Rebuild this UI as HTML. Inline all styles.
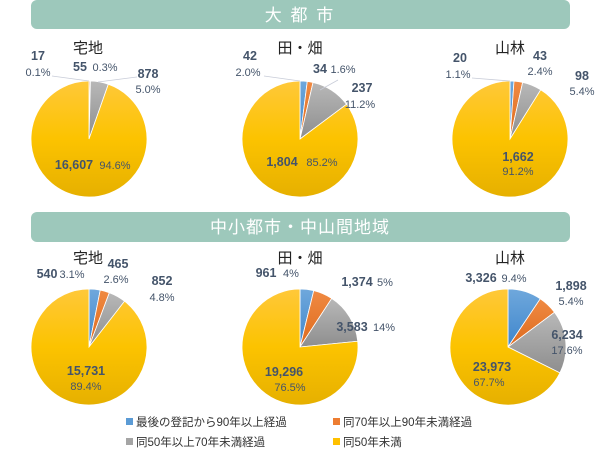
<!DOCTYPE html>
<html><head><meta charset="utf-8"><style>
body{margin:0;background:#fff}
svg{display:block;font-family:"Liberation Sans","Noto Sans CJK JP",sans-serif}
.b{font-weight:bold;font-size:12.5px;fill:#44546a}
.p{font-size:11px;fill:#44546a}
.t{font-size:15px;fill:#222}
.l{font-size:11.5px;fill:#333}
</style></head><body>
<svg id="s" width="600" height="450" viewBox="0 0 600 450">
<defs>
<linearGradient id="gy" x1="0" y1="0" x2="0" y2="1"><stop offset="0" stop-color="#ffc83a"/><stop offset="0.5" stop-color="#fcc300"/><stop offset="1" stop-color="#e6b000"/></linearGradient>
<linearGradient id="gg" x1="0" y1="0" x2="0" y2="1"><stop offset="0" stop-color="#b8b8b8"/><stop offset="1" stop-color="#8e8e8e"/></linearGradient>
<linearGradient id="gb" x1="0" y1="0" x2="0" y2="1"><stop offset="0" stop-color="#6fa8dc"/><stop offset="1" stop-color="#3f86cc"/></linearGradient>
<linearGradient id="go" x1="0" y1="0" x2="0" y2="1"><stop offset="0" stop-color="#f08a42"/><stop offset="1" stop-color="#dd6a1e"/></linearGradient>
</defs>
<rect x="31" y="0" width="539" height="29" rx="6" fill="#9dc8bb"/>
<text x="300" y="21" text-anchor="middle" font-size="17" fill="#fff" letter-spacing="2">大 都 市</text>
<rect x="31" y="212" width="539" height="30" rx="6" fill="#9dc8bb"/>
<text x="300" y="233" text-anchor="middle" font-size="17" fill="#fff" letter-spacing="1">中小都市・中山間地域</text>
<g id="pies"></g>
<g stroke="#c8ccd8" stroke-width="0.8" fill="none">
<path d="M52,76 L89,81"/><path d="M98,82 L137,77"/>
<path d="M264,76 L300,81"/><path d="M338,80 L320,90"/>
<path d="M472,78 L510,81"/>
</g>
<g text-anchor="middle">
<text class="t" x="88" y="53">宅地</text>
<text class="b" x="38" y="60">17</text><text class="p" x="38" y="76">0.1%</text>
<text class="b" x="80" y="71">55</text><text class="p" x="105" y="71">0.3%</text>
<text class="b" x="148" y="78">878</text><text class="p" x="148" y="93">5.0%</text>
<text class="b" x="74" y="169" font-size="14">16,607</text><text class="p" x="115" y="169">94.6%</text>
<text class="t" x="300" y="53">田・畑</text>
<text class="b" x="250" y="60">42</text><text class="p" x="248" y="76">2.0%</text>
<text class="b" x="320" y="73">34</text><text class="p" x="343" y="73">1.6%</text>
<text class="b" x="362" y="92">237</text><text class="p" x="360" y="108">11.2%</text>
<text class="b" x="282" y="166" font-size="14">1,804</text><text class="p" x="322" y="166">85.2%</text>
<text class="t" x="510" y="53">山林</text>
<text class="b" x="460" y="62">20</text><text class="p" x="458" y="78">1.1%</text>
<text class="b" x="540" y="60">43</text><text class="p" x="540" y="75">2.4%</text>
<text class="b" x="582" y="80">98</text><text class="p" x="582" y="95">5.4%</text>
<text class="b" x="518" y="161" font-size="14">1,662</text><text class="p" x="518" y="175">91.2%</text>

<text class="t" x="88" y="263">宅地</text>
<text class="b" x="118" y="268">465</text><text class="p" x="116" y="283">2.6%</text>
<text class="b" x="47" y="278">540</text><text class="p" x="72" y="278">3.1%</text>
<text class="b" x="162" y="285" font-size="11">852</text><text class="p" x="162" y="301">4.8%</text>
<text class="b" x="86" y="375" font-size="14">15,731</text><text class="p" x="86" y="390">89.4%</text>
<text class="t" x="300" y="263">田・畑</text>
<text class="b" x="266" y="277">961</text><text class="p" x="291" y="277">4%</text>
<text class="b" x="357" y="286">1,374</text><text class="p" x="385" y="286">5%</text>
<text class="b" x="352" y="331" font-size="14">3,583</text><text class="p" x="384" y="331">14%</text>
<text class="b" x="284" y="376" font-size="14">19,296</text><text class="p" x="290" y="391">76.5%</text>
<text class="t" x="510" y="263">山林</text>
<text class="b" x="481" y="282">3,326</text><text class="p" x="514" y="282">9.4%</text>
<text class="b" x="571" y="290" font-size="14">1,898</text><text class="p" x="571" y="305">5.4%</text>
<text class="b" x="567" y="339" font-size="14">6,234</text><text class="p" x="567" y="354">17.6%</text>
<text class="b" x="492" y="371" font-size="14">23,973</text><text class="p" x="489" y="386">67.7%</text>
</g>
<rect x="126" y="418" width="7" height="7" fill="#5b9bd5"/><text class="l" x="136" y="426">最後の登記から90年以上経過</text>
<rect x="333" y="418" width="7" height="7" fill="#ed7d31"/><text class="l" x="343" y="426">同70年以上90年未満経過</text>
<rect x="126" y="438" width="7" height="7" fill="#a5a5a5"/><text class="l" x="136" y="446">同50年以上70年未満経過</text>
<rect x="333" y="438" width="7" height="7" fill="#ffc000"/><text class="l" x="343" y="446">同50年未満</text>
</svg>
<script>
var pies=[[89,139,[0.1,0.3,5.0,94.6]],[300,139,[2.0,1.6,11.2,85.2]],[510,139,[1.1,2.4,5.4,91.2]],
[89,347,[3.1,2.6,4.8,89.4]],[300,347,[3.8,5.4,14.2,76.5]],[508,347,[9.4,5.4,17.6,67.7]]];
var fills=["url(#gb)","url(#go)","url(#gg)","url(#gy)"],r=58,h="";
pies.forEach(function(p){var cx=p[0],cy=p[1],v=p[2],t=v.reduce(function(a,b){return a+b}),a=0;
v.forEach(function(x,i){var a1=a+x/t*2*Math.PI;
var x0=cx+r*Math.sin(a),y0=cy-r*Math.cos(a),x1=cx+r*Math.sin(a1),y1=cy-r*Math.cos(a1);
h+='<path d="M'+cx+','+cy+'L'+x0.toFixed(2)+','+y0.toFixed(2)+'A'+r+','+r+' 0 '+((a1-a)>Math.PI?1:0)+' 1 '+x1.toFixed(2)+','+y1.toFixed(2)+'Z" fill="'+fills[i]+'" stroke="#fff" stroke-width="0.8"/>';a=a1;});});
document.getElementById("pies").innerHTML=h;
</script>
</body></html>
